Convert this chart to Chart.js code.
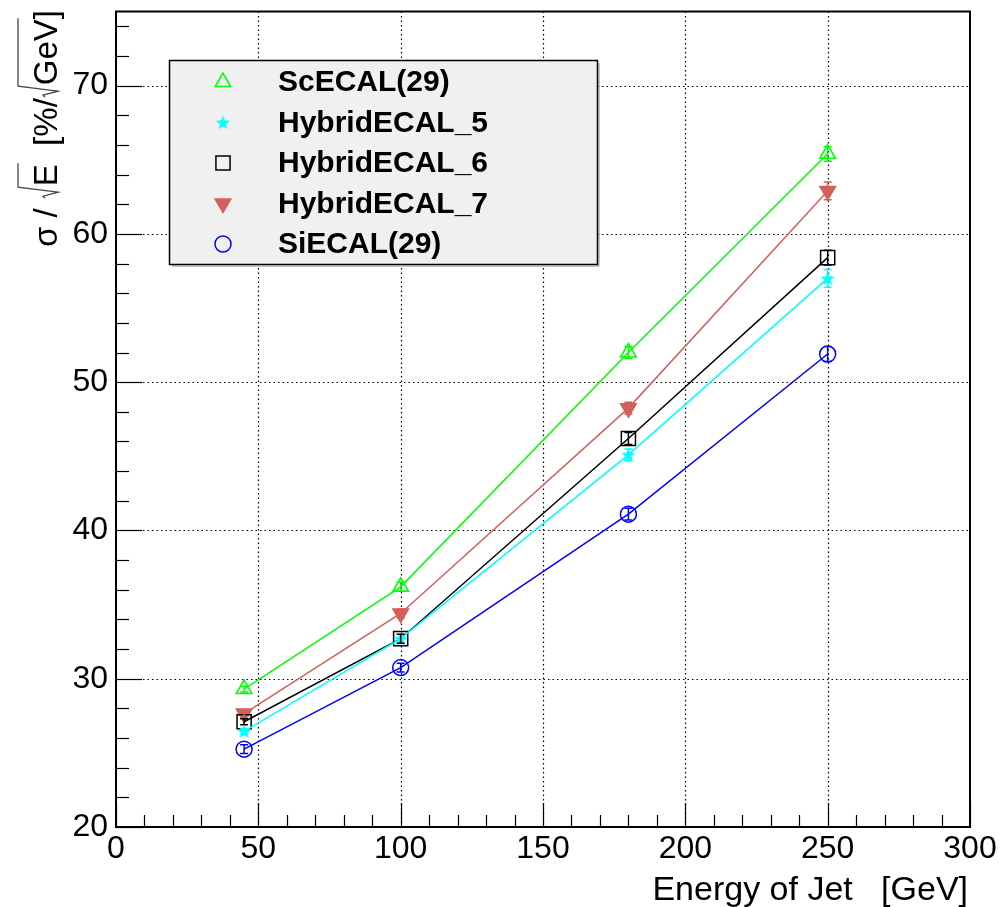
<!DOCTYPE html>
<html><head><meta charset="utf-8">
<script src="https://cdn.jsdelivr.net/npm/chart.js@4.4.1/dist/chart.umd.min.js"></script>
<style>html,body{margin:0;padding:0;background:#fff}</style>
</head><body>
<canvas id="c" width="1001" height="907" style="display:block;width:1001px;height:907px"></canvas>
<script>
// ---- data ----
const energies = [45, 100, 180, 250];
const scEcal   = [29.3, 36.2, 52.0, 65.4];
const hybrid5  = [26.45, 32.7, 45.1, 57.0];
const hybrid6  = [27.1, 32.7, 46.2, 58.4];
const hybrid7  = [27.65, 34.4, 48.25, 62.9];
const siEcal   = [25.25, 30.75, 41.1, 51.9];
const scEcalErr  = [0.2, 0.3, 0.4, 0.5];
const hybrid5Err = [0.2, 0.3, 0.4, 0.6];
const hybrid6Err = [0.2, 0.3, 0.4, 0.5];
const hybrid7Err = [0.2, 0.3, 0.4, 0.6];
const siEcalErr  = [0.3, 0.3, 0.4, 0.5];
const seriesNames = ['ScECAL(29)', 'HybridECAL_5', 'HybridECAL_6', 'HybridECAL_7', 'SiECAL(29)'];
const xTicks = [0, 50, 100, 150, 200, 250, 300];
const yTicks = [20, 30, 40, 50, 60, 70];
const xTitle = 'Energy of Jet   [GeV]';

const FONT = '"Liberation Sans", Arial, Helvetica, sans-serif';
const GREEN = '#00ff00', CYAN = '#00ffff', BLACK = '#000000', RED = '#d55f5a', BLUE = '#0000ff';

// filled star marker image
function makeStar(color, size) {
  const cv = document.createElement('canvas');
  cv.width = size; cv.height = size;
  const g = cv.getContext('2d');
  const cx = size / 2, cy = size / 2 + 0.6, R = size / 2, r = R * 0.42;
  g.beginPath();
  for (let i = 0; i < 10; i++) {
    const a = -Math.PI / 2 + i * Math.PI / 5;
    const rr = i % 2 === 0 ? R : r;
    g.lineTo(cx + rr * Math.cos(a), cy + rr * Math.sin(a));
  }
  g.closePath();
  g.fillStyle = color; g.fill();
  return cv;
}
const starImg = makeStar(CYAN, 15);

function pts(vals) { return energies.map((e, i) => ({x: e, y: vals[i]})); }

const series = [
  {name: seriesNames[0], vals: scEcal,  err: scEcalErr,  color: GREEN, style: 'triangle', fill: false, rot: 0,   r: 9},
  {name: seriesNames[1], vals: hybrid5, err: hybrid5Err, color: CYAN,  style: starImg,    fill: true,  rot: 0,   r: 8},
  {name: seriesNames[2], vals: hybrid6, err: hybrid6Err, color: BLACK, style: 'rect',     fill: false, rot: 0,   r: 10},
  {name: seriesNames[3], vals: hybrid7, err: hybrid7Err, color: RED,   style: 'triangle', fill: true,  rot: 180, r: 9},
  {name: seriesNames[4], vals: siEcal,  err: siEcalErr,  color: BLUE,  style: 'circle',   fill: false, rot: 0,   r: 8},
];

const datasets = series.map(s => ({
  label: s.name,
  data: pts(s.vals),
  errs: s.err,
  borderColor: s.color,
  backgroundColor: s.fill ? s.color : 'rgba(0,0,0,0)',
  pointBackgroundColor: s.fill ? s.color : 'rgba(0,0,0,0)',
  pointBorderColor: s.color,
  pointStyle: s.style,
  pointRotation: s.rot,
  pointRadius: s.r,
  pointBorderWidth: 1.5,
  borderWidth: 1.5,
  tension: 0,
  fill: false,
}));

// ---- frame, ticks, grid ----
const framePlugin = {
  id: 'frame',
  beforeDatasetsDraw(chart) {
    const {ctx, chartArea: a, scales: {x, y}} = chart;
    ctx.save();
    ctx.strokeStyle = '#000'; ctx.lineWidth = 1.2;
    ctx.setLineDash([1.5, 3]);
    xTicks.forEach(v => {
      if (v === x.min || v === x.max) return;
      const px = Math.round(x.getPixelForValue(v)) + 0.5;
      ctx.beginPath(); ctx.moveTo(px, a.top); ctx.lineTo(px, a.bottom); ctx.stroke();
    });
    yTicks.forEach(v => {
      if (v === y.min || v === y.max) return;
      const py = Math.round(y.getPixelForValue(v)) + 0.5;
      ctx.beginPath(); ctx.moveTo(a.left, py); ctx.lineTo(a.right, py); ctx.stroke();
    });
    ctx.setLineDash([]);
    ctx.lineWidth = 1.2;
    for (let v = x.min; v <= x.max; v += 10) {
      const px = Math.round(x.getPixelForValue(v)) + 0.5;
      const len = (v % 50 === 0) ? 24 : 12;
      ctx.beginPath(); ctx.moveTo(px, a.bottom); ctx.lineTo(px, a.bottom - len); ctx.stroke();
    }
    for (let v = y.min; v <= y.max; v += 2) {
      const py = Math.round(y.getPixelForValue(v)) + 0.5;
      const len = (v % 10 === 0) ? 26 : 13;
      ctx.beginPath(); ctx.moveTo(a.left, py); ctx.lineTo(a.left + len, py); ctx.stroke();
    }
    ctx.lineWidth = 2;
    ctx.strokeRect(a.left, a.top, a.right - a.left, a.bottom - a.top);
    ctx.restore();
  }
};

// ---- error bars ----
const errPlugin = {
  id: 'errbars',
  afterDatasetsDraw(chart) {
    const {ctx, scales: {x, y}} = chart;
    ctx.save();
    chart.data.datasets.forEach(ds => {
      ctx.strokeStyle = ds.borderColor; ctx.lineWidth = 1.5;
      ds.data.forEach((p, i) => {
        const e = ds.errs[i];
        const px = x.getPixelForValue(p.x);
        const y1 = y.getPixelForValue(p.y - e), y2 = y.getPixelForValue(p.y + e);
        ctx.beginPath();
        ctx.moveTo(px, y1); ctx.lineTo(px, y2);
        ctx.moveTo(px - 4, y1); ctx.lineTo(px + 4, y1);
        ctx.moveTo(px - 4, y2); ctx.lineTo(px + 4, y2);
        ctx.stroke();
      });
    });
    ctx.restore();
  }
};

// ---- legend box ----
const legendPlugin = {
  id: 'rootLegend',
  afterDraw(chart) {
    const ctx = chart.ctx;
    const L = 169, T = 60, W = 428, H = 204;
    ctx.save();
    ctx.fillStyle = '#f0f0f0';
    ctx.fillRect(L, T, W, H);
    ctx.strokeStyle = '#000'; ctx.lineWidth = 1.5;
    ctx.strokeRect(L + 0.5, T + 0.5, W, H);
    ctx.strokeStyle = '#888'; ctx.lineWidth = 1;
    ctx.beginPath(); ctx.moveTo(L + W + 2, T + 3); ctx.lineTo(L + W + 2, T + H + 2); ctx.lineTo(L + 3, T + H + 2); ctx.stroke();
    const rowY0 = 82, dy = 40.5, mx = 223, tx = 278;
    chart.data.datasets.forEach((ds, i) => {
      const cy = rowY0 + i * dy;
      ctx.save();
      ctx.strokeStyle = ds.pointBorderColor;
      ctx.fillStyle = ds.pointBackgroundColor;
      ctx.lineWidth = 1.5;
      Chart.helpers.drawPoint(ctx, {pointStyle: ds.pointStyle, rotation: ds.pointRotation, radius: ds.pointRadius, borderWidth: 1.5}, mx, cy);
      ctx.restore();
      ctx.fillStyle = '#000';
      ctx.font = 'bold 30px ' + FONT;
      ctx.textBaseline = 'middle'; ctx.textAlign = 'left';
      ctx.fillText(ds.label, tx, cy + 1);
    });
    ctx.restore();
  }
};

// ---- axis titles ----
const titlePlugin = {
  id: 'titles',
  afterDraw(chart) {
    const {ctx, chartArea: a} = chart;
    ctx.save();
    ctx.fillStyle = '#000'; ctx.strokeStyle = '#000';
    ctx.font = '34px ' + FONT;
    ctx.textAlign = 'right'; ctx.textBaseline = 'alphabetic';
    ctx.fillText(xTitle, a.right - 2, 900);

    ctx.translate(57, 0);
    ctx.rotate(-Math.PI / 2);
    ctx.textAlign = 'left';
    ctx.font = '33px ' + FONT;
    const SQW = 13, OV = -39;
    const parts = [
      {t: '\u03c3 / '},
      {sqrt: true},
      {t: 'E', over: true},
      {t: '  [%/'},
      {sqrt: true},
      {t: 'GeV', over: true},
      {t: ']'},
    ];
    let total = 0;
    parts.forEach(p => { p.w = p.sqrt ? SQW : ctx.measureText(p.t).width; total += p.w; });
    let u = -10 - total;
    parts.forEach((p, i) => {
      if (p.sqrt) {
        const nw = parts[i + 1].w;
        ctx.strokeStyle = '#444'; ctx.lineWidth = 1.3;
        ctx.beginPath();
        ctx.moveTo(u + 1, -12);
        ctx.lineTo(u + 3, -14);
        ctx.lineTo(u + 7, 1);
        ctx.lineTo(u + SQW - 1, OV);
        ctx.lineTo(u + SQW + nw + 1, OV);
        ctx.stroke();
      } else {
        ctx.fillText(p.t, u, 0);
      }
      u += p.w;
    });
    ctx.restore();
  }
};

new Chart(document.getElementById('c'), {
  type: 'line',
  data: {datasets},
  options: {
    responsive: false,
    animation: false,
    layout: {padding: {left: 0, top: 8, right: 31, bottom: 0}},
    plugins: {legend: {display: false}, tooltip: {enabled: false}},
    scales: {
      x: {
        type: 'linear', min: 0, max: 300,
        afterBuildTicks: s => { s.ticks = xTicks.map(v => ({value: v})); },
        afterFit: s => { s.height = 80; s.paddingLeft = 0; s.paddingRight = 0; },
        grid: {display: false, drawTicks: false},
        border: {display: false},
        ticks: {font: {family: FONT, size: 32}, color: '#000', padding: 3, maxRotation: 0, autoSkip: false},
      },
      y: {
        type: 'linear', min: 20, max: 75,
        afterBuildTicks: s => { s.ticks = yTicks.map(v => ({value: v})); },
        afterFit: s => { s.width = 116; s.paddingTop = 0; s.paddingBottom = 0; },
        grid: {display: false, drawTicks: false},
        border: {display: false},
        ticks: {font: {family: FONT, size: 32}, color: '#000', padding: 8, autoSkip: false},
      }
    }
  },
  plugins: [framePlugin, errPlugin, legendPlugin, titlePlugin]
});
</script>
</body></html>
